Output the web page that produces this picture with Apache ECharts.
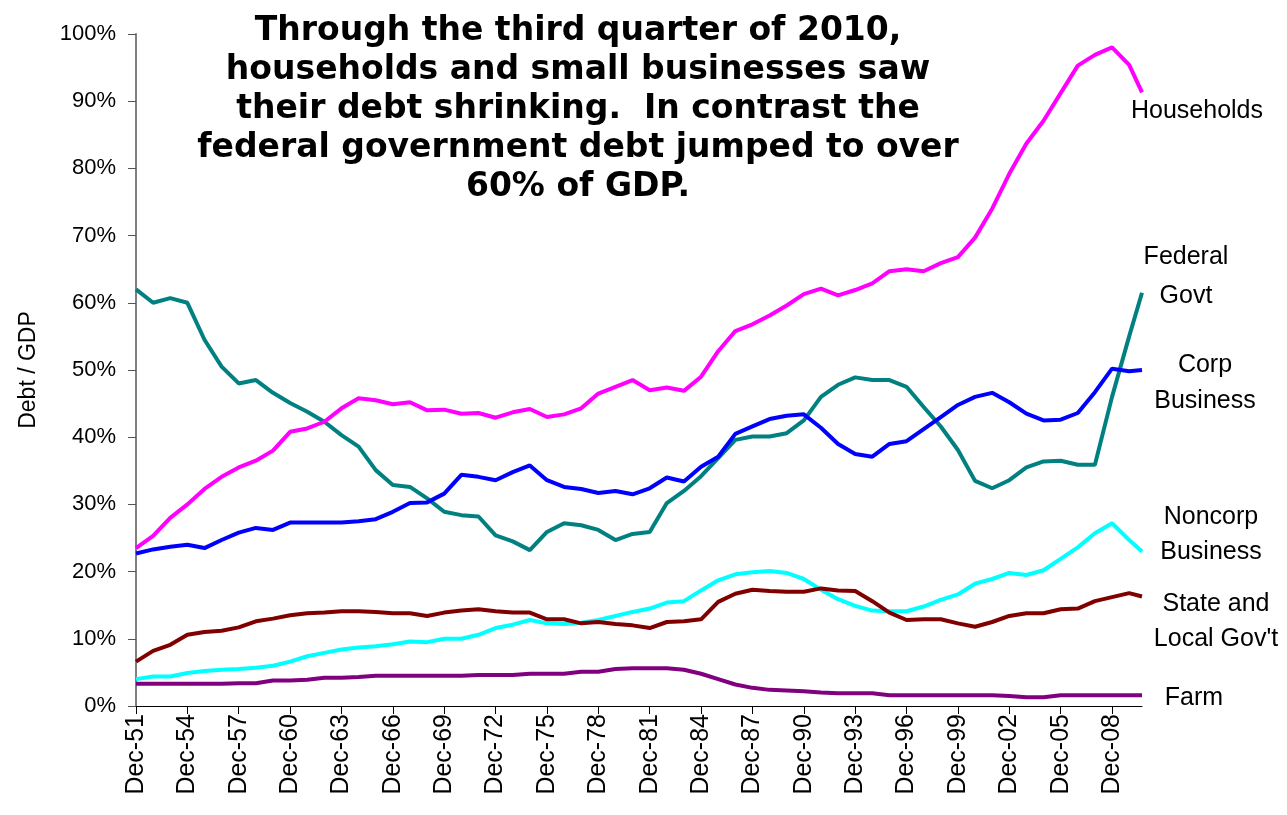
<!DOCTYPE html>
<html>
<head>
<meta charset="utf-8">
<script src="https://cdn.jsdelivr.net/npm/echarts@6/dist/echarts.min.js"></script>
<style>
    html, body { margin: 0; padding: 0; background: #fff; }
    #debtView { width: 1287px; height: 815px; }
</style>
</head>
<body>
<div id="debtView"></div>
<script>
    // periods: year-end points plus the last quarter (Sep-10)
    var periods = ['Dec-51', 'Dec-52', 'Dec-53', 'Dec-54', 'Dec-55', 'Dec-56', 'Dec-57', 'Dec-58', 'Dec-59', 'Dec-60',
        'Dec-61', 'Dec-62', 'Dec-63', 'Dec-64', 'Dec-65', 'Dec-66', 'Dec-67', 'Dec-68', 'Dec-69', 'Dec-70',
        'Dec-71', 'Dec-72', 'Dec-73', 'Dec-74', 'Dec-75', 'Dec-76', 'Dec-77', 'Dec-78', 'Dec-79', 'Dec-80',
        'Dec-81', 'Dec-82', 'Dec-83', 'Dec-84', 'Dec-85', 'Dec-86', 'Dec-87', 'Dec-88', 'Dec-89', 'Dec-90',
        'Dec-91', 'Dec-92', 'Dec-93', 'Dec-94', 'Dec-95', 'Dec-96', 'Dec-97', 'Dec-98', 'Dec-99', 'Dec-00',
        'Dec-01', 'Dec-02', 'Dec-03', 'Dec-04', 'Dec-05', 'Dec-06', 'Dec-07', 'Dec-08', 'Dec-09', 'Sep-10'];

    var tickLabels = ['Dec-51', 'Dec-54', 'Dec-57', 'Dec-60', 'Dec-63', 'Dec-66', 'Dec-69', 'Dec-72', 'Dec-75', 'Dec-78',
        'Dec-81', 'Dec-84', 'Dec-87', 'Dec-90', 'Dec-93', 'Dec-96', 'Dec-99', 'Dec-02', 'Dec-05', 'Dec-08'];

    var households = [23.5, 25.3, 28.0, 30.0, 32.3, 34.1, 35.5, 36.5, 38.0, 40.8,
        41.3, 42.3, 44.3, 45.8, 45.5, 44.9, 45.2, 44.0, 44.1, 43.5,
        43.6, 42.9, 43.7, 44.2, 43.0, 43.4, 44.3, 46.5, 47.5, 48.5,
        47.0, 47.4, 46.9, 49.0, 52.8, 55.8, 56.8, 58.1, 59.6, 61.3,
        62.1, 61.1, 61.9, 62.9, 64.7, 65.0, 64.7, 65.9, 66.8, 69.7,
        74.0, 79.2, 83.7, 87.1, 91.2, 95.3, 96.9, 98.0, 95.4, 91.3];

    var federalGovt = [62.0, 60.0, 60.7, 60.0, 54.5, 50.5, 48.0, 48.5, 46.6, 45.1,
        43.8, 42.3, 40.3, 38.6, 35.1, 32.9, 32.6, 30.9, 28.9, 28.4,
        28.2, 25.4, 24.5, 23.2, 25.9, 27.2, 26.9, 26.2, 24.7, 25.6,
        25.9, 30.2, 32.0, 34.2, 36.9, 39.6, 40.1, 40.1, 40.6, 42.5,
        46.0, 47.8, 48.9, 48.5, 48.5, 47.5, 44.5, 41.6, 38.1, 33.5,
        32.4, 33.6, 35.5, 36.4, 36.5, 35.9, 35.9, 46.0, 55.0, 61.5];

    var corpBusiness = [22.7, 23.3, 23.7, 24.0, 23.5, 24.7, 25.8, 26.5, 26.2, 27.3,
        27.3, 27.3, 27.3, 27.5, 27.8, 28.9, 30.2, 30.3, 31.6, 34.4,
        34.1, 33.6, 34.8, 35.8, 33.6, 32.6, 32.3, 31.7, 32.0, 31.5,
        32.4, 34.0, 33.4, 35.6, 37.1, 40.5, 41.6, 42.7, 43.2, 43.4,
        41.4, 39.0, 37.5, 37.1, 39.0, 39.4, 41.2, 43.0, 44.8, 46.0,
        46.6, 45.2, 43.5, 42.5, 42.6, 43.6, 46.7, 50.2, 49.8, 50.0];

    var noncorpBusiness = [4.0, 4.4, 4.4, 4.9, 5.2, 5.4, 5.5, 5.7, 6.0, 6.6,
        7.4, 7.9, 8.4, 8.7, 8.9, 9.2, 9.6, 9.5, 10.0, 10.0,
        10.6, 11.6, 12.1, 12.8, 12.3, 12.2, 12.4, 12.8, 13.4, 14.0,
        14.5, 15.4, 15.6, 17.2, 18.7, 19.6, 19.9, 20.1, 19.8, 18.9,
        17.3, 15.9, 14.9, 14.2, 14.1, 14.1, 14.8, 15.8, 16.6, 18.2,
        18.9, 19.8, 19.5, 20.2, 21.9, 23.6, 25.7, 27.2, 24.7, 23.0];

    var stateLocal = [6.6, 8.2, 9.1, 10.6, 11.0, 11.2, 11.7, 12.6, 13.0, 13.5,
        13.8, 13.9, 14.1, 14.1, 14.0, 13.8, 13.8, 13.4, 13.9, 14.2,
        14.4, 14.1, 13.9, 13.9, 12.9, 12.9, 12.3, 12.5, 12.2, 12.0,
        11.6, 12.5, 12.6, 12.9, 15.5, 16.7, 17.3, 17.1, 17.0, 17.0,
        17.5, 17.2, 17.1, 15.6, 13.9, 12.8, 12.9, 12.9, 12.3, 11.8,
        12.5, 13.4, 13.8, 13.8, 14.4, 14.5, 15.6, 16.2, 16.8, 16.3];

    var farm = [3.3, 3.3, 3.3, 3.3, 3.3, 3.3, 3.4, 3.4, 3.8, 3.8,
        3.9, 4.2, 4.2, 4.3, 4.5, 4.5, 4.5, 4.5, 4.5, 4.5,
        4.6, 4.6, 4.6, 4.8, 4.8, 4.8, 5.1, 5.1, 5.5, 5.6,
        5.6, 5.6, 5.4, 4.8, 4.0, 3.2, 2.7, 2.4, 2.3, 2.2,
        2.0, 1.9, 1.9, 1.9, 1.6, 1.6, 1.6, 1.6, 1.6, 1.6,
        1.6, 1.5, 1.3, 1.3, 1.6, 1.6, 1.6, 1.6, 1.6, 1.6];

    var monthNum = {Mar: 3, Jun: 6, Sep: 9, Dec: 12};

    // quarters counted from Dec-51
    function quarterIndex(label) {
        var parts = label.split('-');
        var yy = parseInt(parts[1], 10);
        var year = yy > 40 ? 1900 + yy : 2000 + yy;
        return (year - 1951) * 4 + (monthNum[parts[0]] - 12) / 3;
    }

    function pairs(values) {
        return values.map(function (v, i) {
            return [quarterIndex(periods[i]), v];
        });
    }

    var chart = echarts.init(document.getElementById('debtView'));
    var labelFont = 'Liberation Sans, Arial, sans-serif';

    function seriesLine(name, color, values) {
        return {
            name: name,
            type: 'line',
            showSymbol: false,
            lineStyle: {color: color, width: 4},
            itemStyle: {color: color},
            data: pairs(values)
        };
    }

    function sideLabel(text, x, y, lh) {
        return {
            type: 'text',
            x: x,
            y: y,
            style: {
                text: text,
                font: '25px ' + labelFont,
                fill: '#000',
                align: 'center',
                verticalAlign: 'middle',
                lineHeight: lh || 36
            }
        };
    }

    var option = {
        animation: false,
        backgroundColor: '#fff',
        grid: {left: 136, right: 145, top: 34, bottom: 109},
        xAxis: {
            type: 'value',
            min: 0,
            max: 235,
            interval: 12,
            splitLine: {show: false},
            axisLine: {show: true, lineStyle: {color: '#000', width: 1}},
            axisTick: {show: true, length: 8, lineStyle: {color: '#000'}},
            axisLabel: {
                rotate: 90,
                margin: 8,
                color: '#000',
                fontSize: 25,
                fontFamily: labelFont,
                showMaxLabel: false,
                formatter: function (v) {
                    return v % 12 === 0 ? (tickLabels[v / 12] || '') : '';
                }
            }
        },
        yAxis: {
            type: 'value',
            min: 0,
            max: 100,
            interval: 10,
            name: 'Debt / GDP',
            nameLocation: 'middle',
            nameRotate: 90,
            nameGap: 96,
            nameTextStyle: {color: '#000', fontSize: 23, fontFamily: labelFont},
            splitLine: {show: false},
            axisLine: {show: true, lineStyle: {color: '#808080', width: 2}},
            axisTick: {show: true, length: 8, lineStyle: {color: '#555'}},
            axisLabel: {
                margin: 20,
                color: '#000',
                fontSize: 22,
                fontFamily: labelFont,
                formatter: '{value}%'
            }
        },
        series: [
            seriesLine('Federal Govt', '#008080', federalGovt),
            seriesLine('Households', '#FF00FF', households),
            seriesLine('Corp Business', '#0000FF', corpBusiness),
            seriesLine('Noncorp Business', '#00FFFF', noncorpBusiness),
            seriesLine('State and Local Gov\'t', '#800000', stateLocal),
            seriesLine('Farm', '#800080', farm)
        ],
        graphic: [
            {
                type: 'text',
                x: 578,
                y: 12,
                style: {
                    text: 'Through the third quarter of 2010,\nhouseholds and small businesses saw\ntheir debt shrinking.  In contrast the\nfederal government debt jumped to over\n60% of GDP.',
                    font: 'bold 33px "DejaVu Sans", sans-serif',
                    fill: '#000',
                    align: 'center',
                    verticalAlign: 'top',
                    lineHeight: 39
                }
            },
            sideLabel('Households', 1197, 111),
            sideLabel('Federal\nGovt', 1186, 277, 39),
            sideLabel('Corp\nBusiness', 1205, 383),
            sideLabel('Noncorp\nBusiness', 1211, 535, 35),
            sideLabel('State and\nLocal Gov\'t', 1216, 622, 35),
            sideLabel('Farm', 1194, 698)
        ]
    };
    chart.setOption(option);
</script>
</body>
</html>
